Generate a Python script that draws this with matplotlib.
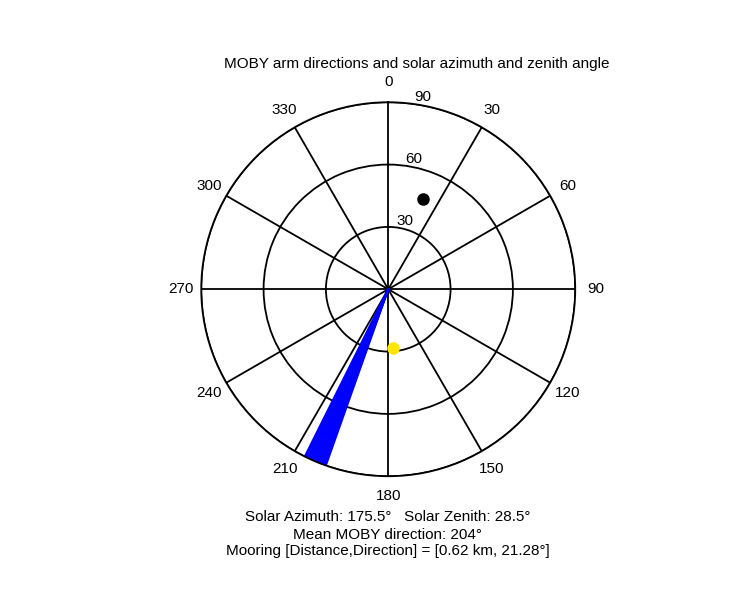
import numpy as np
import matplotlib
matplotlib.use("Agg")
import matplotlib.pyplot as plt

plt.rcParams['font.family'] = ['Liberation Sans', 'DejaVu Sans']

arm_dirs = [199.5, 200.0, 200.5, 201.0, 201.5, 202.0, 202.5, 203.0, 203.5, 204.0,
            204.5, 205.0, 205.5, 206.0, 206.5]
solar_az, solar_zen = 175.5, 28.5
mooring_dir, mooring_r = 21.28, 46.5
theta_ticks = list(range(0, 360, 30))
r_ticks = [30, 60, 90]

fig = plt.figure(figsize=(7.5, 6), dpi=100)
ax = fig.add_axes([0.2683, 0.2063, 0.4987, 0.6233], projection="polar")
ax.set_theta_zero_location("N")
ax.set_theta_direction(-1)
ax.set_rlim(0, 90)
ax.set_rticks(r_ticks)
ax.set_rlabel_position(8)
ax.set_thetagrids(theta_ticks, [str(t) for t in theta_ticks], fontsize=11)
ax.grid(True, color="black", linestyle="-", linewidth=1.3)
ax.spines["polar"].set_color("black")
ax.spines["polar"].set_linewidth(1.3)
ax.tick_params(axis="y", labelsize=11)
ax.tick_params(axis="x", pad=4)

for d in arm_dirs:
    ax.plot([0, np.deg2rad(d)], [0, 90], color="blue", linewidth=1.5)
ax.plot(np.deg2rad(mooring_dir), mooring_r, "o", color="black", markersize=8)
ax.plot(np.deg2rad(solar_az), solar_zen, "o", color="#ffe600", markersize=8)

fig.text(0.555, 0.893, "MOBY arm directions and solar azimuth and zenith angle",
         ha="center", va="center", fontsize=11)
fig.text(0.517, 0.138, "Solar Azimuth: 175.5\u00b0   Solar Zenith: 28.5\u00b0",
         ha="center", va="center", fontsize=11)
fig.text(0.517, 0.108, "Mean MOBY direction: 204\u00b0", ha="center", va="center", fontsize=11)
fig.text(0.517, 0.081, "Mooring [Distance,Direction] = [0.62 km, 21.28\u00b0]",
         ha="center", va="center", fontsize=11)
fig.savefig("out.png", dpi=100, facecolor="white")
